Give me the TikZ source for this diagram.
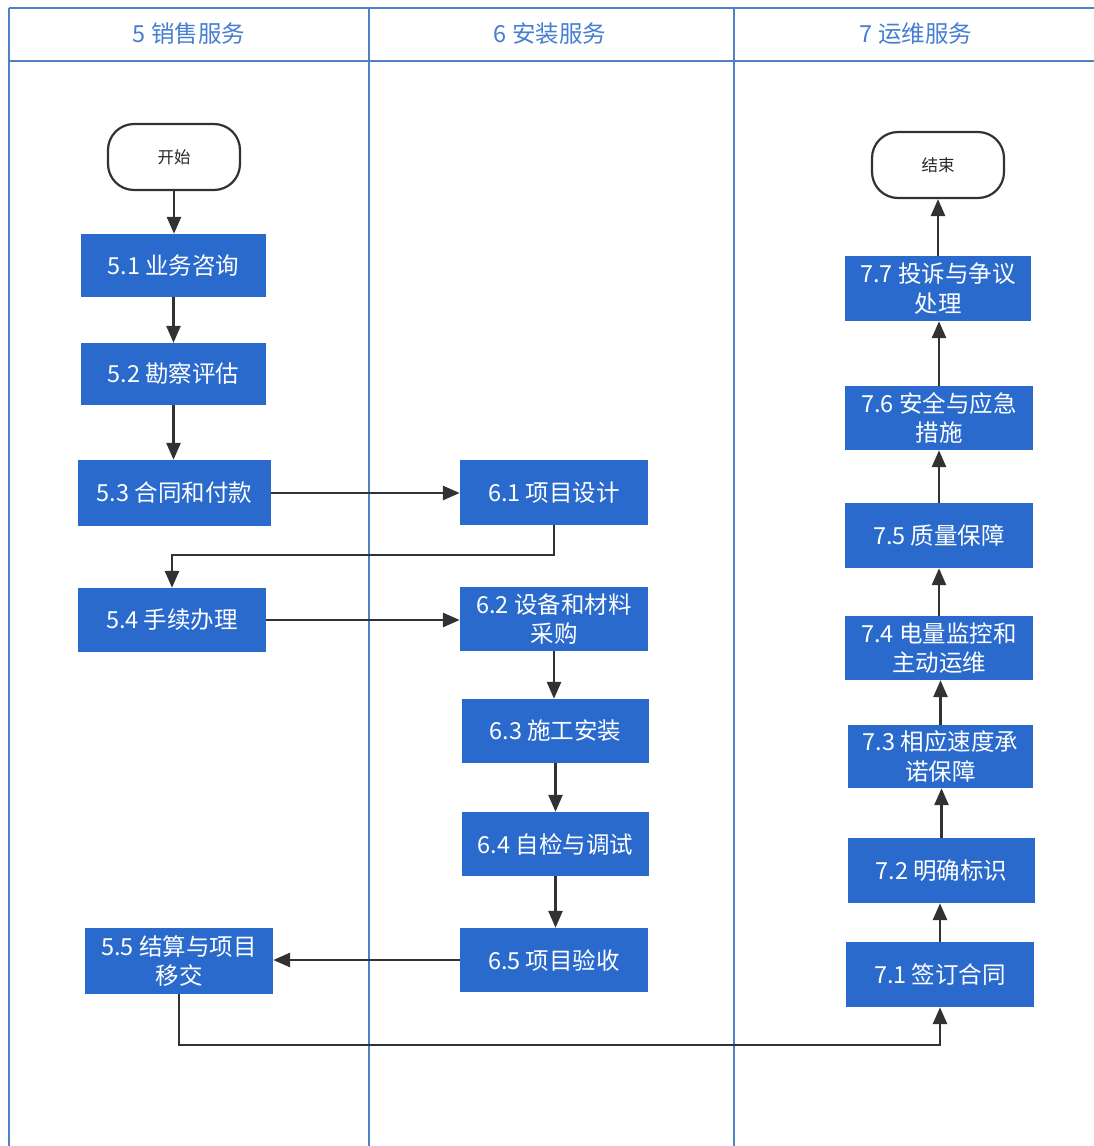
\documentclass[tikz,border=0pt]{standalone}
\usepackage{fontspec}
\setmainfont{Noto Sans CJK SC}
\usetikzlibrary{arrows.meta}
\definecolor{boxblue}{RGB}{42,106,204}
\definecolor{lanecol}{RGB}{80,128,198}
\definecolor{headtxt}{RGB}{70,126,210}
\definecolor{linecol}{RGB}{50,50,50}
\tikzset{
  stepbox/.style={fill=boxblue, draw=none, text=white, align=center,
    font=\fontsize{23.5}{29.5}\selectfont, inner sep=0pt},
  termbox/.style={draw=linecol, line width=2.2pt, fill=white, rounded corners=26pt,
    font=\fontsize{16.5}{19}\selectfont, inner sep=0pt, text=black!85},
  lane/.style={draw=lanecol, line width=1.3pt},
  headlabel/.style={text=headtxt, font=\fontsize{23.5}{28}\selectfont},
  arr/.style={draw=linecol, line width=2.8pt, -{Triangle[length=17pt,width=14pt]}},
}
\newcommand{\bx}[7][stepbox]{%
  \node[#1, minimum width=#4-#3, minimum height=#6-#5] (#2) at ({(#3+#4)/2},{(#5+#6)/2}) {#7};}
\begin{document}
\begin{tikzpicture}[x=1pt,y=-1pt]
\useasboundingbox (0,0) rectangle (1094,1146);
\fill[white] (0,0) rectangle (1094,1146);
% lanes
\draw[lane] (9,8) -- (1094,8);
\draw[lane] (9,61) -- (1094,61);
\draw[lane] (9,8) -- (9,1146);
\draw[lane] (369,8) -- (369,1146);
\draw[lane] (734,8) -- (734,1146);
\node[headlabel] (h5) at (189,34) {5 销售服务};
\node[headlabel] (h6) at (550,34) {6 安装服务};
\node[headlabel] (h7) at (916,34) {7 运维服务};
% nodes
\bx[termbox]{start}{108}{240}{124}{190}{开始}
\bx{b51}{81}{266}{234}{297}{5.1 业务咨询}
\bx{b52}{81}{266}{343}{405}{5.2 勘察评估}
\bx{b53}{78}{271}{460}{526}{5.3 合同和付款}
\bx{b54}{78}{266}{588}{652}{5.4 手续办理}
\bx{b55}{85}{273}{928}{994}{5.5 结算与项目\\移交}
\bx{b61}{460}{648}{460}{525}{6.1 项目设计}
\bx{b62}{460}{648}{587}{651}{6.2 设备和材料\\采购}
\bx{b63}{462}{649}{699}{763}{6.3 施工安装}
\bx{b64}{462}{649}{812}{876}{6.4 自检与调试}
\bx{b65}{460}{648}{928}{992}{6.5 项目验收}
\bx[termbox]{end}{872}{1004}{132}{198}{结束}
\bx{b77}{845}{1031}{256}{321}{7.7 投诉与争议\\处理}
\bx{b76}{845}{1033}{386}{450}{7.6 安全与应急\\措施}
\bx{b75}{845}{1033}{503}{568}{7.5 质量保障}
\bx{b74}{845}{1033}{616}{680}{7.4 电量监控和\\主动运维}
\bx{b73}{848}{1033}{725}{788}{7.3 相应速度承\\诺保障}
\bx{b72}{848}{1035}{838}{903}{7.2 明确标识}
\bx{b71}{846}{1034}{942}{1007}{7.1 签订合同}
% connectors
\coordinate (k1) at (0,555);
\coordinate (k2) at (0,1045);
\draw[arr] (start.south) -- (start.south |- b51.north);
\draw[arr] (b51.south) -- (b51.south |- b52.north);
\draw[arr] (b52.south) -- (b52.south |- b53.north);
\draw[arr] (b53.east) -- (b53.east -| b61.west);
\draw[arr] (b61.south) -- (b61.south |- k1) -| (b54.north);
\draw[arr] (b54.east) -- (b54.east -| b62.west);
\draw[arr] (b62.south) -- (b62.south |- b63.north);
\draw[arr] (b63.south) -- (b63.south |- b64.north);
\draw[arr] (b64.south) -- (b64.south |- b65.north);
\draw[arr] (b65.west) -- (b65.west -| b55.east);
\draw[arr] (b55.south) -- (b55.south |- k2) -| (b71.south);
\draw[arr] (b71.north) -- (b71.north |- b72.south);
\draw[arr] (b72.north) -- (b72.north |- b73.south);
\draw[arr] (b73.north) -- (b73.north |- b74.south);
\draw[arr] (b74.north) -- (b74.north |- b75.south);
\draw[arr] (b75.north) -- (b75.north |- b76.south);
\draw[arr] (b76.north) -- (b76.north |- b77.south);
\draw[arr] (b77.north) -- (b77.north |- end.south);
\end{tikzpicture}
\end{document}
